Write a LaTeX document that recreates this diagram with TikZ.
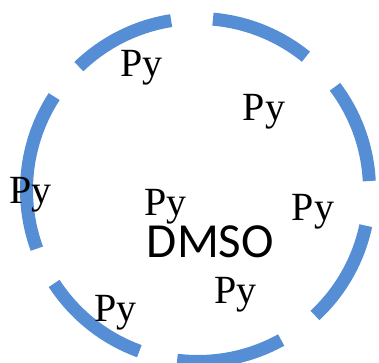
\documentclass[tikz,border=0pt]{standalone}
\usepackage{fontspec}
\usetikzlibrary{calc}
\newfontfamily\pyfont{Liberation Serif}
\newfontfamily\solvfont{Carlito}
\definecolor{ringblue}{HTML}{558ED5}

\begin{document}
\begin{tikzpicture}[
    x=1pt, y=1pt,
    ring/.style={
        draw=ringblue,
        line width=13pt,
        line cap=butt
    },
    pylabel/.style={
        anchor=base west,
        inner sep=0pt,
        font=\pyfont\fontsize{40}{40}\selectfont
    },
    solvlabel/.style={
        anchor=base west,
        inner sep=0pt,
        font=\solvfont\fontsize{49}{49}\selectfont
    }
]

    \useasboundingbox (0,0) rectangle (379,362);

    % Dashed shell (solvent cage)
    \coordinate (center) at (198,172);
    \foreach \a/\b in {3/37, 51/85, 99/134, 147/200, 213/250, 263/299, 313/348}
        \draw[ring] ($(center)+(\a:171.5)$) arc[start angle=\a, end angle=\b, radius=171.5];

    % Labels
    \node[pylabel] (py1) at (120,285.3) {Py};
    \node[pylabel] (py2) at (242.7,242) {Py};
    \node[pylabel] (py3) at (9.3,158.7) {Py};
    \node[pylabel] (py4) at (144,147) {Py};
    \node[pylabel] (py5) at (291.7,142) {Py};
    \node[pylabel] (py6) at (214.3,58.7) {Py};
    \node[pylabel] (py7) at (94.3,40.3) {Py};
    \node[solvlabel] (dmso) at (146.7,104.7) {DMSO};

\end{tikzpicture}
\end{document}
